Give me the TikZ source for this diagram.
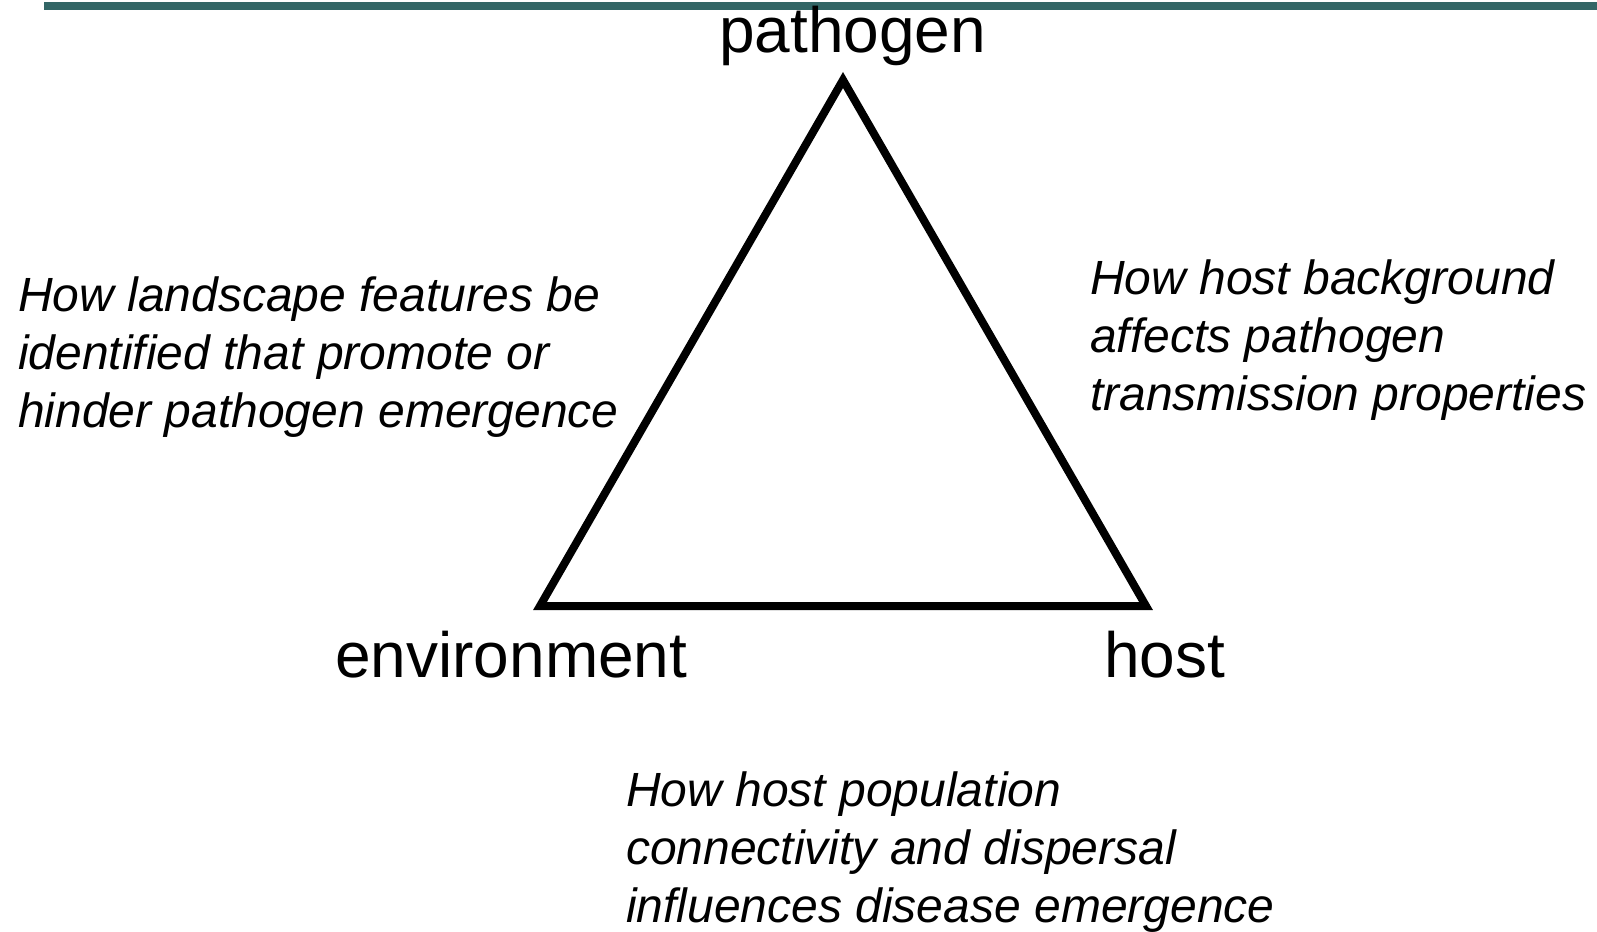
\documentclass[tikz,border=0pt]{standalone}
\usepackage{fontspec}
\setmainfont{Liberation Sans}
\definecolor{barteal}{RGB}{51,102,102}
\begin{document}
\begin{tikzpicture}[x=1pt,y=-1pt,
  label/.style={anchor=base west,inner sep=0pt,font=\fontsize{64}{76}\selectfont},
  question/.style={anchor=base west,inner sep=0pt,font=\fontsize{48}{58}\selectfont\itshape},
  edge/.style={line width=8pt,line join=miter}]
\useasboundingbox (0,0) rectangle (1597,931);
% header rule
\fill[barteal] (44,2) rectangle (1597,10);
% triangle corners
\coordinate (apex) at (843,80);
\coordinate (bl) at (540,606);
\coordinate (br) at (1146,606);
\draw[edge] (apex) -- (bl) -- (br) -- cycle;
% corner labels
\node[label] (pathogen) at (719,53) {pathogen};
\node[label] (environment) at (335,677) {environment};
\node[label] (host) at (1104,677) {host};
% questions
\node[question] (l1) at (18,311) {How landscape features be};
\node[question] (l2) at (18,369) {identified that promote or};
\node[question] (l3) at (18,427) {hinder pathogen emergence};
\node[question] (r1) at (1090,294) {How host background};
\node[question] (r2) at (1090,352) {affects pathogen};
\node[question] (r3) at (1090,410) {transmission properties};
\node[question] (b1) at (626,806) {How host population};
\node[question] (b2) at (626,864) {connectivity and dispersal};
\node[question] (b3) at (626,922) {influences disease emergence};
\end{tikzpicture}
\end{document}
